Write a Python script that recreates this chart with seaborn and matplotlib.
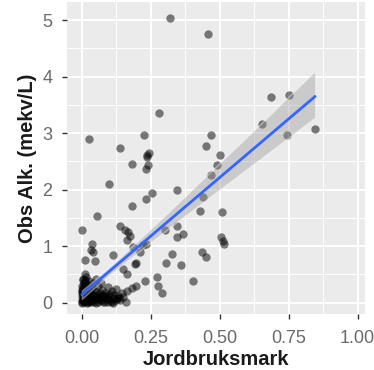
import matplotlib
matplotlib.use("Agg")
import matplotlib.pyplot as plt
import seaborn as sns
import numpy as np
import pandas as pd

# ---- data ----
jord_spread = [0.320, 0.457, 0.280, 0.027, 0.138, 0.225, 0.470, 0.449, 0.242, 0.238, 0.235,
               0.500, 0.685, 0.753, 0.652, 0.743, 0.846, 0.180, 0.241, 0.231, 0.489,
               0.098, 0.470, 0.346, 0.253, 0.231, 0.180, 0.440, 0.428, 0.054, 0.000,
               0.138, 0.156, 0.168, 0.174, 0.162, 0.301, 0.346, 0.346, 0.368, 0.035,
               0.033, 0.039, 0.114, 0.223, 0.232, 0.210, 0.186, 0.011, 0.047, 0.192,
               0.198, 0.305, 0.327, 0.359, 0.434, 0.450, 0.150, 0.162, 0.271, 0.277,
               0.289, 0.229, 0.402, 0.198, 0.180, 0.162, 0.114, 0.126, 0.509, 0.503,
               0.515, 0.513]
alk_spread = [5.04, 4.75, 3.35, 2.89, 2.73, 2.96, 2.97, 2.77, 2.65, 2.62, 2.57,
              2.61, 3.64, 3.67, 3.17, 2.97, 3.07, 2.45, 2.43, 2.37, 2.43,
              2.10, 2.26, 2.00, 1.94, 1.84, 1.71, 1.87, 1.63, 1.53, 1.28,
              1.35, 1.29, 1.25, 1.18, 1.11, 1.29, 1.35, 1.17, 1.22, 1.04,
              0.93, 0.89, 0.85, 1.02, 1.04, 0.89, 0.98, 0.76, 0.74, 0.69,
              0.70, 0.71, 0.87, 0.66, 0.89, 0.80, 0.60, 0.51, 0.46, 0.30,
              0.17, 0.39, 0.38, 0.30, 0.26, 0.21, 0.00, 0.09, 1.60, 1.16,
              1.04, 1.09]
jord_cluster = [0.000, 0.002, 0.005, 0.003, 0.008, 0.004, 0.010, 0.006, 0.012, 0.015,
                0.008, 0.012, 0.015, 0.018, 0.020, 0.022, 0.025, 0.028, 0.030, 0.033,
                0.035, 0.038, 0.040, 0.045, 0.048, 0.050, 0.055, 0.058, 0.060, 0.065,
                0.068, 0.072, 0.075, 0.080, 0.085, 0.090, 0.095, 0.100, 0.105, 0.110,
                0.118, 0.125, 0.130, 0.138, 0.145, 0.150, 0.160, 0.018, 0.025, 0.002,
                0.000, 0.004, 0.010, 0.042, 0.070, 0.052,
                0.001, 0.003, 0.006, 0.009, 0.011, 0.014, 0.016, 0.019, 0.021, 0.024,
                0.001, 0.004, 0.007, 0.010, 0.013, 0.017, 0.020, 0.023, 0.027, 0.031,
                0.034, 0.037, 0.041, 0.044, 0.047, 0.053, 0.057, 0.062, 0.067, 0.073,
                0.078, 0.083, 0.088, 0.093, 0.098, 0.103, 0.108, 0.115, 0.122, 0.135,
                0.000, 0.005, 0.009, 0.013, 0.002, 0.007]
alk_cluster = [0.00, 0.05, 0.10, 0.15, 0.20, 0.25, 0.30, 0.35, 0.40, 0.45,
               0.02, 0.08, 0.13, 0.18, 0.24, 0.32, 0.38, 0.03, 0.10, 0.16,
               0.22, 0.28, 0.05, 0.12, 0.20, 0.00, 0.08, 0.15, 0.30, 0.04,
               0.12, 0.22, 0.02, 0.10, 0.18, 0.06, 0.28, 0.14, 0.03, 0.20,
               0.08, 0.25, 0.12, 0.05, 0.18, 0.10, 0.02, 0.00, 0.06, 0.20,
               0.30, 0.40, 0.50, 0.35, 0.35, 0.42,
               0.01, 0.04, 0.07, 0.12, 0.03, 0.09, 0.05, 0.14, 0.01, 0.11,
               0.22, 0.28, 0.33, 0.19, 0.27, 0.06, 0.16, 0.02, 0.20, 0.07,
               0.01, 0.13, 0.09, 0.02, 0.06, 0.11, 0.01, 0.09, 0.17, 0.05,
               0.14, 0.01, 0.11, 0.02, 0.07, 0.16, 0.01, 0.13, 0.04, 0.09,
               0.12, 0.42, 0.06, 0.37, 0.17, 0.03]

x_ticks = [0.00, 0.25, 0.50, 0.75, 1.00]
x_tick_labels = ["0.00", "0.25", "0.50", "0.75", "1.00"]
y_ticks = [0, 1, 2, 3, 4, 5]
y_tick_labels = ["0", "1", "2", "3", "4", "5"]
x_title = "Jordbruksmark"
y_title = "Obs Alk. (mekv/L)"

df = pd.DataFrame({"Jordbruksmark": jord_spread + jord_cluster,
                   "Alk": alk_spread + alk_cluster})

sns.set_theme(style="darkgrid")
plt.rcParams["font.family"] = ["Liberation Sans", "DejaVu Sans"]

fig = plt.figure(figsize=(3.74, 3.70), dpi=100)
ax = fig.add_axes([67 / 374, 1 - 314 / 370, (365 - 67) / 374, (314 - 2) / 370])
ax.set_facecolor("#EBEBEB")

sns.regplot(data=df, x="Jordbruksmark", y="Alk", ax=ax, seed=3, ci=85,
            scatter_kws=dict(s=36, color="black", alpha=0.5, linewidths=0),
            line_kws=dict(color="#3366FF", lw=2.0))
for coll in ax.collections[1:]:
    coll.set_facecolor("#999999")
    coll.set_alpha(0.4)

ax.set_xlim(-0.054, 1.027)
ax.set_ylim(-0.2, 5.32)
ax.set_xticks(x_ticks)
ax.set_xticklabels(x_tick_labels)
ax.set_yticks(y_ticks)
ax.set_yticklabels(y_tick_labels)
ax.set_xticks([0.125, 0.375, 0.625, 0.875], minor=True)
ax.set_yticks([0.5, 1.5, 2.5, 3.5, 4.5], minor=True)
ax.grid(which="major", color="white", lw=1.4)
ax.grid(which="minor", color="white", lw=0.7)
ax.set_axisbelow(True)
for sp in ax.spines.values():
    sp.set_visible(False)

ax.tick_params(axis="both", which="major", length=3.5, width=1.0, color="#333333",
               labelsize=13, labelcolor="#6a6a6a", bottom=True, left=True)
ax.tick_params(axis="x", which="major", pad=8)
ax.tick_params(axis="y", which="major", pad=7)
ax.tick_params(axis="both", which="minor", length=0)

ax.set_xlabel(x_title, fontsize=14.5, fontweight="bold", color="#1a1a1a", labelpad=2)
ax.set_ylabel(y_title, fontsize=14.5, fontweight="bold", color="#1a1a1a", labelpad=4)

fig.savefig("out.png", dpi=100)
